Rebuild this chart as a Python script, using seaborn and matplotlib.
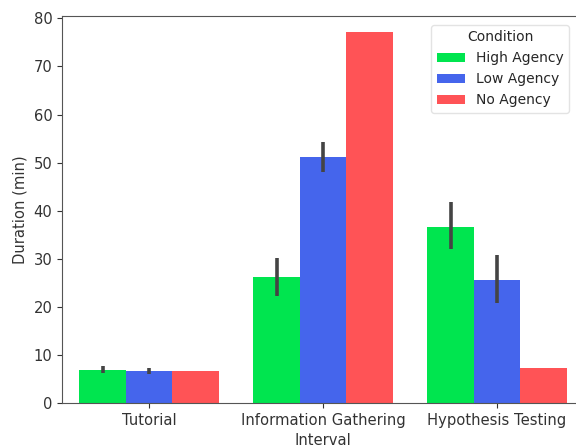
import seaborn as sns
import matplotlib.pyplot as plt
import pandas as pd

intervals = ['Tutorial', 'Information Gathering', 'Hypothesis Testing']
conditions = ['High Agency', 'Low Agency', 'No Agency']
high_mean = [6.9, 26.2, 36.6]
low_mean = [6.6, 51.1, 25.5]
none_mean = [6.6, 77.2, 7.3]
# error bar ends (lower, upper); no-agency has none
high_err = [(6.2, 7.6), (22.3, 30.2), (32.1, 41.8)]
low_err = [(6.0, 7.3), (48.0, 54.3), (20.7, 30.7)]
colors = ['#00e54f', '#4565ec', '#ff5356']

df = pd.DataFrame({
    'Interval': intervals * 3,
    'Condition': [c for c in conditions for _ in intervals],
    'Duration (min)': high_mean + low_mean + none_mean,
})

sns.set_style("ticks")
plt.rcParams['font.family'] = ['DejaVu Sans']
fig = plt.figure(figsize=(5.76, 4.45), dpi=100)
ax = fig.add_axes([62 / 576, 1 - 403 / 445, 522 / 576, 387 / 445])
sns.barplot(data=df, x='Interval', y='Duration (min)', hue='Condition',
            order=intervals, hue_order=conditions, palette=colors,
            errorbar=None, saturation=1, width=0.8, linewidth=0, ax=ax)

# error bars on top of the first two conditions
for cont, errs in zip(ax.containers[:2], [high_err, low_err]):
    for patch, (lo, hi) in zip(cont.patches, errs):
        cx = patch.get_x() + patch.get_width() / 2
        ax.vlines(cx, lo, hi, color='#444444', lw=2.6, zorder=3)

ax.set_ylim(0, 80.5)
ax.set_xlim(-0.5, 2.5)
ax.set_yticks(range(0, 81, 10))
for s in ax.spines.values():
    s.set_visible(True)
    s.set_color('#555555')
ax.tick_params(colors='#333333', labelsize=10.6)
ax.set_ylabel('Duration (min)', color='#333333', fontsize=10.6)
ax.set_xlabel('Interval', color='#333333', fontsize=10.6)
leg = ax.legend(title='Condition', loc='upper right', fontsize=10,
                title_fontsize=10, frameon=True, bbox_to_anchor=(0.985, 0.995))
leg.get_frame().set_edgecolor('#dddddd')
fig.savefig('out.png', dpi=100)
